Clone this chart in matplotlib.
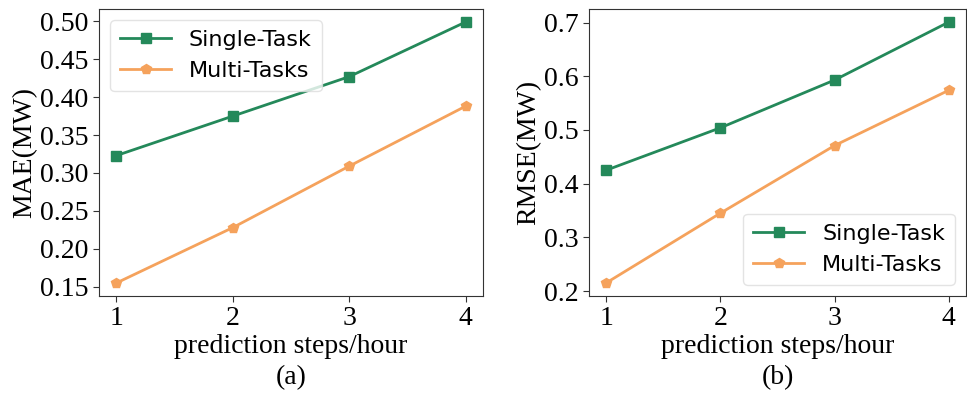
import numpy as np
import matplotlib
matplotlib.use('Agg')
import matplotlib.pyplot as plt

# prediction horizon (hours)
steps = [1, 2, 3, 4]

# MAE (MW)
mae_single = [0.323, 0.375, 0.427, 0.499]
mae_multi = [0.155, 0.228, 0.309, 0.388]

# RMSE (MW)
rmse_single = [0.425, 0.504, 0.593, 0.701]
rmse_multi = [0.215, 0.345, 0.471, 0.574]

green = '#24895a'
orange = '#f5a25c'

plt.rcParams['font.family'] = ['Liberation Serif', 'DejaVu Serif']

fig = plt.figure(figsize=(9.67, 3.94), dpi=100)
ax1 = fig.add_axes([99 / 967, 1 - 296 / 394, 384 / 967, 287 / 394])
ax2 = fig.add_axes([589 / 967, 1 - 296 / 394, 377 / 967, 287 / 394])


def draw(ax, single, multi, ylabel, tag, loc, yticks):
    ax.plot(steps, single, color=green, marker='s', markersize=7.5, linewidth=2, label='Single-Task')
    ax.plot(steps, multi, color=orange, marker='p', markersize=7, linewidth=2, label='Multi-Tasks')
    ax.set_xticks(steps)
    ax.set_yticks(yticks)
    ax.tick_params(labelsize=20, length=4, color='#333333')
    ax.set_xlabel('prediction steps/hour', fontsize=20, labelpad=2)
    ax.set_ylabel(ylabel, fontsize=20, labelpad=2)
    for sp in ax.spines.values():
        sp.set_color('#333333')
    ax.legend(loc=loc, prop={'family': 'DejaVu Sans', 'size': 16},
              handlelength=2.3, borderpad=0.45, labelspacing=0.5,
              handletextpad=0.8, fancybox=True, edgecolor='#dddddd')
    ax.text(0.5, -0.286, tag, transform=ax.transAxes, ha='center', va='center', fontsize=20)


draw(ax1, mae_single, mae_multi, 'MAE(MW)', '(a)', 'upper left',
     [0.15, 0.20, 0.25, 0.30, 0.35, 0.40, 0.45, 0.50])
ax1.set_yticklabels(['0.15', '0.20', '0.25', '0.30', '0.35', '0.40', '0.45', '0.50'])
draw(ax2, rmse_single, rmse_multi, 'RMSE(MW)', '(b)', 'lower right',
     [0.2, 0.3, 0.4, 0.5, 0.6, 0.7])

fig.savefig('out.png', dpi=100)
